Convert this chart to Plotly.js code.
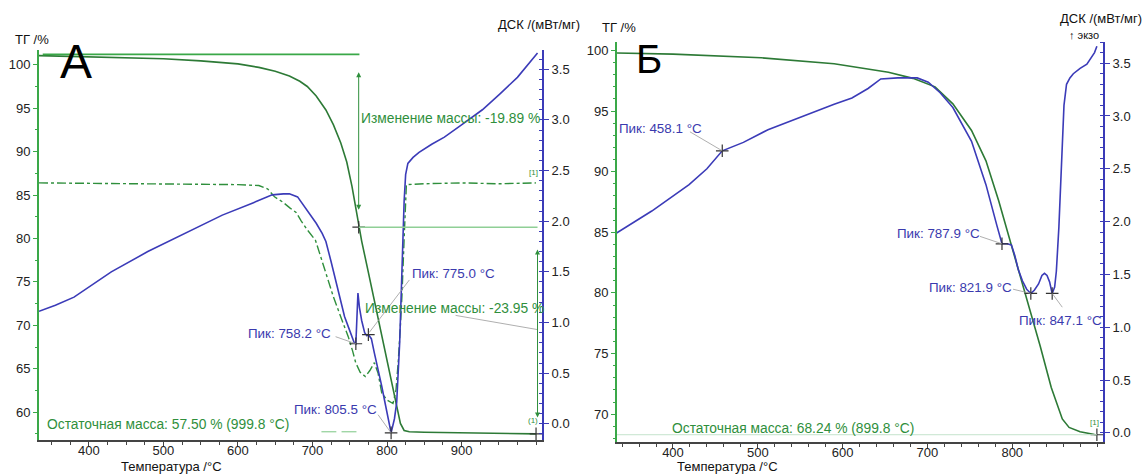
<!DOCTYPE html>
<html><head><meta charset="utf-8">
<script src="https://cdn.plot.ly/plotly-3.0.1.min.js"></script>
<style>html,body{margin:0;padding:0;background:#fff;}#chart{width:1148px;height:474px;}</style>
</head><body><div id="chart"></div>
<script>
// ---------- Panel A ----------
const tA_tg = [333,360,400,450,500,550,600,628,650,669,683,693,705,718,728,738,746,753,758,762,766,775,788,800,810,818,823,830,850,900,950,1000];
const vA_tg = [101.05,101.0,100.95,100.85,100.7,100.45,100.1,99.7,99.25,98.7,98.1,97.5,96.4,94.8,93.1,91.0,88.8,86.0,83.6,81.3,79.7,76.1,70.8,65.8,61.6,58.7,57.9,57.75,57.7,57.65,57.58,57.5];

const tA_dtg = [333,400,500,600,628,640,649,660,670,678,685,693,704,716,728,740,748,754,758,764,771,777,783,788,793,800,808,812,815,818,820,823,826,850,900,950,1000];
const vA_dtg = [86.4,86.35,86.3,86.2,86.1,85.7,84.8,84.2,83.5,83.0,82.0,81.0,79.8,76.5,73.3,70.5,68.7,67.0,65.7,64.6,64.1,64.8,65.7,64.5,62.2,61.4,61.0,62.5,65.7,70.0,73.3,80.0,86.2,86.3,86.4,86.3,86.4];

const tA_dsc = [333,355,380,430,479,529,579,620,646,661,669,680,693,705,713,718,725,731,737,743,750,756,758.2,759.5,761,763,766,770,773,775,779,783,788,793,797,801,805.5,810,813,817,820,823,825,828,835,843,860,877,900,928,952,975,1002];
const dA_dsc = [1.11,1.17,1.25,1.50,1.70,1.88,2.06,2.18,2.26,2.27,2.27,2.24,2.11,1.98,1.88,1.80,1.60,1.42,1.24,1.06,0.92,0.80,0.79,1.05,1.29,1.15,1.02,0.90,0.87,0.88,0.84,0.70,0.55,0.37,0.22,0.07,-0.09,0.05,0.21,0.80,1.59,2.20,2.46,2.57,2.63,2.68,2.76,2.83,2.95,3.10,3.26,3.42,3.66];

const peaksA_t = [758.2, 775.0, 805.5];
const peaksA_d = [0.79, 0.88, -0.09];
const tgMarksA_t = [762, 1000];
const tgMarksA_v = [81.3, 57.5];
const massA_start = 101.2, massA_mid = 81.3, massA_end = 57.5;

// ---------- Panel Б ----------
const tB_tg = [333,400,504,590,654,683,709,730,752,769,784,795,805,817,833,846,859,867,880,897,899.8];
const vB_tg = [99.8,99.7,99.4,98.9,98.2,97.7,97.0,95.6,93.4,90.9,87.6,84.9,82.5,79.6,75.6,72.2,69.6,68.9,68.55,68.32,68.3];

const tB_dsc = [333,375,419,440,458.1,470,483,512,550,590,611,630,645,665,688,701,715,730,752,769,782,787.9,794,799,803,807,812,817,821.9,826,831,835,838,841,844,847.1,850,852,855,858,861,864,868,872,880,888,897,899.8];
const dB_dsc = [1.89,2.10,2.35,2.50,2.67,2.71,2.75,2.87,2.99,3.11,3.17,3.26,3.35,3.36,3.36,3.32,3.22,3.08,2.76,2.35,1.96,1.79,1.79,1.78,1.68,1.55,1.44,1.36,1.32,1.35,1.41,1.49,1.51,1.49,1.43,1.32,1.38,1.53,1.95,2.60,3.10,3.30,3.36,3.40,3.45,3.49,3.60,3.66];

const peaksB_t = [458.1, 787.9, 821.9, 847.1];
const peaksB_d = [2.67, 1.79, 1.32, 1.32];
const tgMarksB_t = [899.8];
const tgMarksB_v = [68.3];

// tick labels
const xTicksA = [400,500,600,700,800,900];
const xTicksB = [400,500,600,700,800];
const tgTicksA = [60,65,70,75,80,85,90,95,100];
const tgTicksB = [70,75,80,85,90,95,100];
const dscTicks = [0,0.5,1,1.5,2,2.5,3,3.5];
const dscTickText = ['0.0','0.5','1.0','1.5','2.0','2.5','3.0','3.5'];

// ---------- styling ----------
const W = 1148, H = 474;
const FONT = 'Liberation Sans, Arial, sans-serif';
const GREEN = '#2f8f3c', GREEN_AX = '#3aa848', TG_LINE = '#2d7a36', BLUE = '#3b3bb8', BLUE_TXT = '#3a3aae';
const P = (px, py) => ({x: px / W, y: 1 - py / H});

const traces = [
  {x: tA_dtg, y: vA_dtg, xaxis:'x', yaxis:'y', mode:'lines', line:{color:GREEN, width:1.4, dash:'dashdot'}, hoverinfo:'skip'},
  {x: tA_tg, y: vA_tg, xaxis:'x', yaxis:'y', mode:'lines', line:{color:TG_LINE, width:1.6}, hoverinfo:'skip'},
  {x: tgMarksA_t, y: tgMarksA_v, xaxis:'x', yaxis:'y', mode:'markers', marker:{symbol:'cross-thin', size:9, line:{color:'#333', width:1.2}}},
  {x: tA_dsc, y: dA_dsc, xaxis:'x', yaxis:'y2', mode:'lines', line:{color:BLUE, width:1.6}, hoverinfo:'skip'},
  {x: peaksA_t, y: peaksA_d, xaxis:'x', yaxis:'y2', mode:'markers', marker:{symbol:'cross-thin', size:9, line:{color:'#333', width:1.2}}},
  {x: tB_tg, y: vB_tg, xaxis:'x2', yaxis:'y3', mode:'lines', line:{color:TG_LINE, width:1.6}, hoverinfo:'skip'},
  {x: tgMarksB_t, y: tgMarksB_v, xaxis:'x2', yaxis:'y3', mode:'markers', marker:{symbol:'cross-thin', size:9, line:{color:'#333', width:1.2}}},
  {x: tB_dsc, y: dB_dsc, xaxis:'x2', yaxis:'y4', mode:'lines', line:{color:BLUE, width:1.6}, hoverinfo:'skip'},
  {x: peaksB_t, y: peaksB_d, xaxis:'x2', yaxis:'y4', mode:'markers', marker:{symbol:'cross-thin', size:9, line:{color:'#333', width:1.2}}}
];

const tickfont = {family: FONT, size: 13, color: '#222'};
function xAxis(dom, range, vals, minorD, anchor) {
  return {domain: dom, range: range, anchor: anchor, showline: true, linecolor: '#444', linewidth: 1.5,
    ticks: 'outside', ticklen: 4, tickcolor: '#444', tickmode: 'array', tickvals: vals, ticktext: vals.map(String),
    ticklabelstandoff: -6,
    minor: {tickmode: 'linear', tick0: 0, dtick: minorD, ticks: 'outside', ticklen: 3, tickcolor: '#444', showgrid: false},
    showgrid: false, zeroline: false, tickfont: tickfont, fixedrange: true};
}
function tgAxis(dom, range, vals, minorD, anchor) {
  return {domain: dom, range: range, anchor: anchor, side: 'left', showline: true, linecolor: GREEN_AX, linewidth: 2,
    ticks: 'outside', ticklen: 4, tickcolor: GREEN_AX, tickmode: 'array', tickvals: vals, ticktext: vals.map(String),
    minor: {tickmode: 'linear', tick0: 0, dtick: minorD, ticks: 'outside', ticklen: 2, tickcolor: GREEN_AX, showgrid: false},
    showgrid: false, zeroline: false, tickfont: tickfont, fixedrange: true};
}
function dscAxis(over, range, anchor) {
  return {overlaying: over, range: range, anchor: anchor, side: 'right', showline: true, linecolor: BLUE, linewidth: 2,
    ticks: 'outside', ticklen: 5, tickcolor: BLUE, tickmode: 'array', tickvals: dscTicks, ticktext: dscTickText,
    minor: {tickmode: 'linear', tick0: 0, dtick: 0.1, ticks: 'inside', ticklen: 3, tickcolor: BLUE, showgrid: false},
    showgrid: false, zeroline: false, tickfont: tickfont, fixedrange: true};
}

function txt(text, px, py, opts) {
  const p = P(px, py);
  return Object.assign({text: text, xref: 'paper', yref: 'paper', x: p.x, y: p.y, xanchor: 'left', yanchor: 'middle',
    showarrow: false, font: {family: FONT, size: 12.5, color: '#111'}}, opts || {});
}
const gFont = {family: FONT, size: 13.8, color: GREEN};
const bFont = {family: FONT, size: 13.4, color: BLUE_TXT};

const annotations = [
  txt('ТГ /%', 13, 39, {font:{family:FONT, size:13, color:'#111'}}),
  txt('ДСК /(мВт/мг)', 496, 24, {font:{family:FONT, size:13, color:'#111'}}),
  txt('A', 76, 62, {xanchor:'center', font:{family:FONT, size:48, color:'#000'}}),
  txt('Изменение массы: -19.89 %', 359, 118, {font: gFont}),
  txt('[1]', 533, 172, {xanchor:'center', font:{family:FONT, size:8, color:GREEN}}),
  txt('Пик: 775.0 °C', 410, 273, {font: bFont}),
  txt('Изменение массы: -23.95 %', 363, 308, {font: gFont}),
  txt('Пик: 758.2 °C', 246, 333, {font: bFont}),
  txt('Пик: 805.5 °C', 292, 409, {font: bFont}),
  txt('Остаточная масса: 57.50 % (999.8 °C)', 45, 424, {font: gFont}),
  txt('(1)', 533, 420, {xanchor:'center', font:{family:FONT, size:8, color:GREEN}}),
  txt('Температура /°C', 119, 466, {font:{family:FONT, size:13, color:'#111'}}),

  txt('ТГ /%', 600, 28, {font:{family:FONT, size:13, color:'#111'}}),
  txt('Б', 649, 59, {xanchor:'center', font:{family:FONT, size:40, color:'#000'}}),
  txt('ДСК /(мВт/мг)', 1058, 19, {font:{family:FONT, size:13, color:'#111'}}),
  txt('↑ экзо', 1067, 35, {font:{family:FONT, size:11, color:'#111'}}),
  txt('Пик: 458.1 °C', 617, 128, {font: bFont}),
  txt('Пик: 787.9 °C', 895, 234, {font: bFont}),
  txt('Пик: 821.9 °C', 927, 287, {font: bFont}),
  txt('Пик: 847.1 °C', 1017, 320, {font: bFont}),
  txt('Остаточная масса: 68.24 % (899.8 °C)', 670, 428, {font: gFont}),
  txt('[1]', 1094, 422, {xanchor:'center', font:{family:FONT, size:8, color:GREEN}}),
  txt('Температура /°C', 675, 466, {font:{family:FONT, size:13, color:'#111'}}),

  // double arrows for mass change (panel A)
  {xref:'x', yref:'y', axref:'x', ayref:'y', x:762, y:83.3, ax:762, ay:99.3, text:'', showarrow:true,
   arrowhead:2, startarrowhead:2, arrowside:'end+start', arrowsize:1, arrowwidth:1, arrowcolor:GREEN},
  {xref:'x', yref:'y', axref:'x', ayref:'y', x:1002, y:59.4, ax:1002, ay:78.9, text:'', showarrow:true,
   arrowhead:2, startarrowhead:2, arrowside:'end+start', arrowsize:1, arrowwidth:1, arrowcolor:GREEN}
];

const lg = {color:'#9a9a9a', width:0.8};
const shapes = [
  {type:'line', xref:'x', yref:'y', x0:338, x1:763, y0:massA_start, y1:massA_start, line:{color:GREEN_AX, width:1.6}},
  {type:'line', xref:'x', yref:'y', x0:762, x1:1002, y0:massA_mid, y1:massA_mid, line:{color:'#8fcf96', width:1.4}},
  {type:'line', xref:'x', yref:'y', x0:712, x1:732, y0:57.75, y1:57.75, line:{color:'#8fcf96', width:1.2}},
  {type:'line', xref:'x', yref:'y', x0:739, x1:759, y0:57.75, y1:57.75, line:{color:'#8fcf96', width:1.2}},
  {type:'line', xref:'x', yref:'y2', x0:731, x1:758.2, y0:0.86, y1:0.79, line:lg},
  {type:'line', xref:'x', yref:'y2', x0:830, x1:776, y0:1.42, y1:0.90, line:lg},
  {type:'line', xref:'x', yref:'y2', x0:788, x1:805.5, y0:0.09, y1:-0.09, line:lg},
  {type:'line', xref:'x', yref:'y2', x0:892, x1:1002, y0:1.07, y1:0.93, line:lg},
  {type:'line', xref:'x2', yref:'y3', x0:334, x1:899.8, y0:68.3, y1:68.3, line:{color:'#c5e3cc', width:1}},
  {type:'line', xref:'x2', yref:'y4', x0:420, x1:458.1, y0:2.85, y1:2.67, line:lg},
  {type:'line', xref:'x2', yref:'y4', x0:762, x1:787.9, y0:1.86, y1:1.79, line:lg},
  {type:'line', xref:'x2', yref:'y4', x0:801, x1:821.9, y0:1.36, y1:1.32, line:lg},
  {type:'line', xref:'x2', yref:'y4', x0:859, x1:847.1, y0:1.19, y1:1.32, line:lg}
];

const layout = {
  width: W, height: H, autosize: false,
  margin: {l:0, r:0, t:0, b:0},
  paper_bgcolor: '#fff', plot_bgcolor: '#fff',
  showlegend: false,
  font: {family: FONT},
  xaxis: xAxis([39/W, 542/W], [333, 1008], xTicksA, 25, 'y'),
  yaxis: tgAxis([1-440/H, 1-50/H], [56.8, 101.7], tgTicksA, 2.5, 'x'),
  yaxis2: dscAxis('y', [-0.16, 3.69], 'x'),
  xaxis2: xAxis([617/W, 1103/W], [334, 907], xTicksB, 20, 'y3'),
  yaxis3: tgAxis([1-442/H, 1-42/H], [67.7, 100.7], tgTicksB, 1, 'x2'),
  yaxis4: dscAxis('y3', [-0.086, 3.70], 'x2'),
  annotations: annotations,
  shapes: shapes
};

Plotly.newPlot('chart', traces, layout, {displayModeBar:false, staticPlot:true});
</script></body></html>
